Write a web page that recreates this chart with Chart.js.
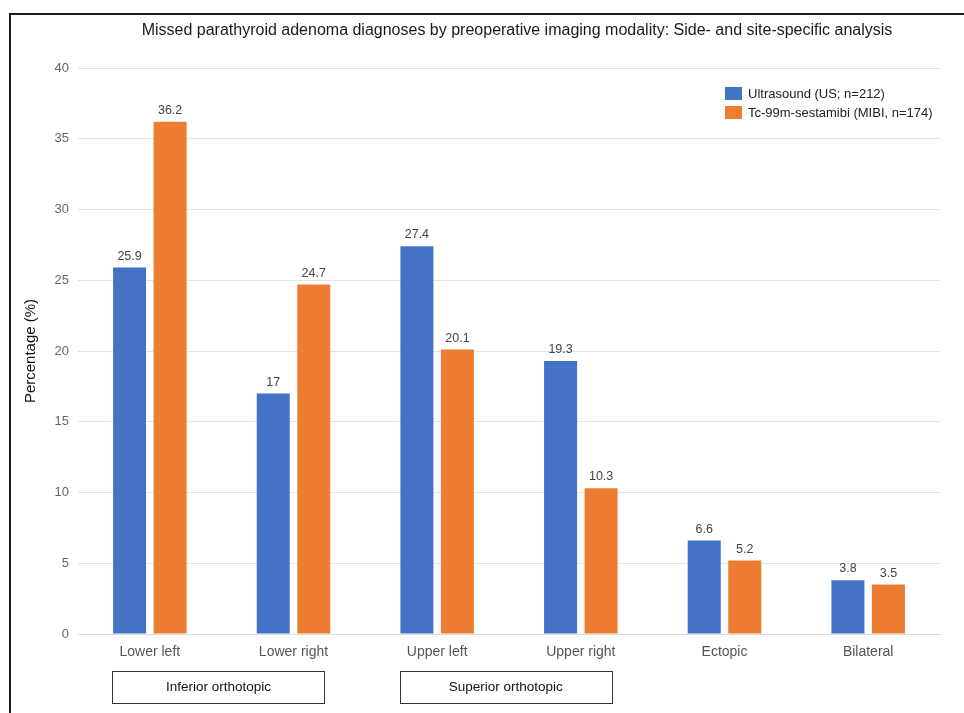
<!DOCTYPE html>
<html>
<head>
<meta charset="utf-8">
<script src="https://cdn.jsdelivr.net/npm/chart.js@4/dist/chart.umd.min.js"></script>
<style>
  html, body { margin: 0; padding: 0; background: #ffffff; }
  #wrap { position: relative; width: 964px; height: 713px; }
  canvas { display: block; }
</style>
</head>
<body>
<div id="wrap"><canvas id="chart" width="964" height="713"></canvas></div>
<script>
// Locations of missed adenomas, per imaging modality (% of cases)
const categories = ['Lower left', 'Lower right', 'Upper left', 'Upper right', 'Ectopic', 'Bilateral'];
const usValues = [25.9, 17, 27.4, 19.3, 6.6, 3.8];
const mibiValues = [36.2, 24.7, 20.1, 10.3, 5.2, 3.5];
const seriesNames = ['Ultrasound (US; n=212)', 'Tc-99m-sestamibi (MIBI, n=174)'];
const seriesColors = ['#4472C4', '#ED7D31'];
const yTicks = [0, 5, 10, 15, 20, 25, 30, 35, 40];
const chartTitle = 'Missed parathyroid adenoma diagnoses by preoperative imaging modality: Side- and site-specific analysis';
const yTitle = 'Percentage (%)';
// Bracketed groupings shown under the category axis
const groupNames = ['Inferior orthotopic', 'Superior orthotopic'];
const groupFrom = [0, 2];
const groupTo = [1, 3];

const FONT = '"Liberation Sans", Arial, sans-serif';

const framePlugin = {
  id: 'frame',
  beforeDraw(chart) {
    const ctx = chart.ctx;
    ctx.save();
    ctx.fillStyle = '#ffffff';
    ctx.fillRect(0, 0, chart.width, chart.height);
    ctx.strokeStyle = '#1a1a1a';
    ctx.lineWidth = 2;
    ctx.beginPath();
    ctx.moveTo(10, chart.height + 5);
    ctx.lineTo(10, 14);
    ctx.lineTo(chart.width + 5, 14);
    ctx.stroke();
    ctx.restore();
  }
};

const extrasPlugin = {
  id: 'extras',
  afterDraw(chart) {
    const ctx = chart.ctx;
    const x = chart.scales.x;
    ctx.save();

    // title
    ctx.fillStyle = '#1a1a1a';
    ctx.font = '16px ' + FONT;
    ctx.textAlign = 'center';
    ctx.textBaseline = 'middle';
    ctx.fillText(chartTitle, 517, 31);

    // value labels above bars
    ctx.font = '12.5px ' + FONT;
    ctx.fillStyle = '#444444';
    ctx.textBaseline = 'bottom';
    chart.data.datasets.forEach((ds, di) => {
      chart.getDatasetMeta(di).data.forEach((bar, i) => {
        ctx.fillText(String(ds.data[i]), bar.x, bar.y - 5);
      });
    });

    // legend
    const lx = 725, ly = 87;
    ctx.textAlign = 'left';
    ctx.textBaseline = 'middle';
    ctx.font = '13px ' + FONT;
    seriesNames.forEach((name, i) => {
      const y = ly + i * 19;
      ctx.fillStyle = seriesColors[i];
      ctx.fillRect(lx, y, 17, 13);
      ctx.fillStyle = '#222222';
      ctx.fillText(name, lx + 23, y + 7);
    });

    // group boxes under the axis
    const cw = x.getPixelForValue(1) - x.getPixelForValue(0);
    ctx.font = '13.5px ' + FONT;
    ctx.textAlign = 'center';
    groupNames.forEach((name, g) => {
      const left = x.getPixelForValue(groupFrom[g]) - 0.26 * cw;
      const right = x.getPixelForValue(groupTo[g]) + 0.215 * cw;
      const top = 671.5, h = 32;
      ctx.strokeStyle = '#333333';
      ctx.lineWidth = 1;
      ctx.strokeRect(Math.round(left) + 0.5, top, Math.round(right - left), h);
      ctx.fillStyle = '#111111';
      ctx.fillText(name, (left + right) / 2, top + h / 2);
    });
    ctx.restore();
  }
};

new Chart(document.getElementById('chart'), {
  type: 'bar',
  data: {
    labels: categories,
    datasets: [
      { label: seriesNames[0], data: usValues, backgroundColor: seriesColors[0] },
      { label: seriesNames[1], data: mibiValues, backgroundColor: seriesColors[1] }
    ]
  },
  options: {
    responsive: false,
    animation: false,
    events: [],
    layout: { padding: { left: 22, right: 24, top: 68, bottom: 39 } },
    datasets: { bar: { categoryPercentage: 0.564, barPercentage: 0.815 } },
    plugins: {
      legend: { display: false },
      title: { display: false },
      tooltip: { enabled: false }
    },
    scales: {
      x: {
        grid: { display: false, drawTicks: false },
        border: { display: true, color: '#dcdcdc', width: 1 },
        ticks: { color: '#555555', font: { family: FONT, size: 14 }, padding: 10, maxRotation: 0 },
        afterFit(scale) { scale.height = 40; }
      },
      y: {
        min: 0, max: 40,
        afterBuildTicks(scale) { scale.ticks = yTicks.map(v => ({ value: v })); },
        grid: { color: '#e3e3e3', drawTicks: false },
        border: { display: false },
        ticks: { color: '#666666', font: { family: FONT, size: 13 }, padding: 9 },
        title: { display: true, text: yTitle, color: '#111111', font: { family: FONT, size: 15 }, padding: { top: 0, bottom: 0 } },
        afterFit(scale) { scale.width = 56; }
      }
    }
  },
  plugins: [framePlugin, extrasPlugin]
});
</script>
</body>
</html>
